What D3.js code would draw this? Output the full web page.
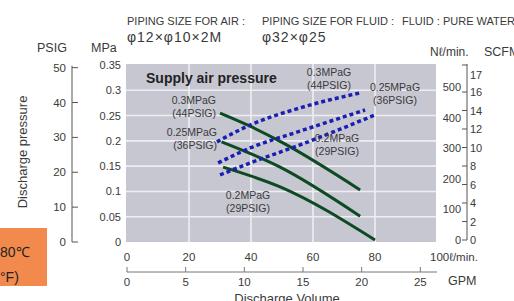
<!DOCTYPE html>
<html>
<head>
<meta charset="utf-8">
<script src="https://cdn.jsdelivr.net/npm/d3@7"></script>
<style>
body { margin: 0; background: #fff; }
svg { display: block; }
text { font-family: "Liberation Sans", Arial, sans-serif; fill: #3a3a3a; }
</style>
</head>
<body>
<svg id="chart"></svg>
<script>
// discharge volume (l/min) vs discharge pressure (MPa), one per supply air pressure
var discharge_03 = [[30, 0.255], [39.7, 0.229], [50.3, 0.196], [75.2, 0.103]];
var discharge_025 = [[30.5, 0.198], [49.4, 0.148], [75.2, 0.051]];
var discharge_02 = [[31, 0.148], [49.4, 0.109], [80, 0.004]];

// discharge volume (l/min) vs air consumption (Nl/min)
var air_03 = [[29.0, 324], [39.7, 379], [55.8, 435], [75.2, 484]];
var air_025 = [[29.4, 255], [39.7, 304], [55.8, 359], [76.8, 428]];
var air_02 = [[30, 216], [39.7, 255], [55.8, 314], [80, 412]];

var lmin_ticks = [0, 20, 40, 60, 80];
var gpm_ticks = [0, 5, 10, 15, 20, 25];
var mpa_ticks = [0, 0.05, 0.1, 0.15, 0.2, 0.25, 0.3, 0.35];
var psig_ticks = [0, 10, 20, 30, 40, 50];
var nl_ticks = [0, 100, 200, 300, 400, 500];
var scfm_ticks = [0, 2, 4, 6, 8, 10, 12, 14, 16];

var width = 514, height = 301;

var svg = d3.select('#chart')
	.attr("width", width)
	.attr("height", height);

var x = d3.scaleLinear().domain([0, 100]).range([127, 437]);
var y = d3.scaleLinear().domain([0, 0.35]).range([242, 65]);
var yn = d3.scaleLinear().domain([0, 500]).range([241, 88]);
var ys = d3.scaleLinear().domain([0, 16]).range([240, 92]);
var gpm = function(v){ return x(v * 3.785); };
var psig = function(v){ return y(v * 0.0068948); };

// plot background + grid
svg.append("rect")
	.attr("x", 126).attr("y", 64)
	.attr("width", 310).attr("height", 178)
	.attr("fill", "#c7c7d2");

svg.append("g").selectAll("line")
	.data(mpa_ticks.slice(1, 7))
	.enter().append("line")
	.attr("x1", 126).attr("x2", 436)
	.attr("y1", function(d){ return y(d); })
	.attr("y2", function(d){ return y(d); })
	.attr("stroke", "#eeeef2").attr("stroke-width", 1.6);

svg.append("g").selectAll("line")
	.data(lmin_ticks.slice(1))
	.enter().append("line")
	.attr("x1", function(d){ return x(d); })
	.attr("x2", function(d){ return x(d); })
	.attr("y1", 64).attr("y2", 242)
	.attr("stroke", "#eeeef2").attr("stroke-width", 1.6);

// curves
var line = d3.line()
	.x(function(d){ return x(d[0]); })
	.y(function(d){ return y(d[1]); })
	.curve(d3.curveMonotoneX);
var airline = d3.line()
	.x(function(d){ return x(d[0]); })
	.y(function(d){ return yn(d[1]); })
	.curve(d3.curveMonotoneX);

[discharge_03, discharge_025, discharge_02].forEach(function(s){
	svg.append("path")
		.attr("d", line(s))
		.attr("fill", "none")
		.attr("stroke", "#0d4a22")
		.attr("stroke-width", 3);
});
[air_03, air_025, air_02].forEach(function(s){
	svg.append("path")
		.attr("d", airline(s))
		.attr("fill", "none")
		.attr("stroke", "#1b1fb0")
		.attr("stroke-width", 3.5)
		.attr("stroke-dasharray", "4,3");
});

// labels inside plot
svg.append("text")
	.attr("x", 146).attr("y", 83)
	.style("font-size", "14px").style("font-weight", "bold")
	.style("fill", "#222")
	.text("Supply air pressure");

var notes = [
	{x: 216, y: 104, a: "end", t: ["0.3MPaG", "(44PSIG)"]},
	{x: 217, y: 136, a: "end", t: ["0.25MPaG", "(36PSIG)"]},
	{x: 248, y: 199, a: "middle", t: ["0.2MPaG", "(29PSIG)"]},
	{x: 329, y: 76, a: "middle", t: ["0.3MPaG", "(44PSIG)"]},
	{x: 395, y: 91, a: "middle", t: ["0.25MPaG", "(36PSIG)"]},
	{x: 337, y: 142, a: "middle", t: ["0.2MPaG", "(29PSIG)"]}
];
notes.forEach(function(n){
	svg.append("text")
		.attr("text-anchor", n.a)
		.attr("x", n.x).attr("y", n.y)
		.style("font-size", "10.5px")
		.text(n.t[0]);
	svg.append("text")
		.attr("text-anchor", n.a)
		.attr("x", n.x).attr("y", n.y + 13)
		.style("font-size", "10.5px")
		.text(n.t[1]);
});

// left axes
svg.append("g").selectAll("text")
	.data(mpa_ticks)
	.enter().append("text")
	.attr("text-anchor", "end")
	.attr("x", 121)
	.attr("y", function(d){ return y(d) + 4; })
	.style("font-size", "11px")
	.text(function(d){ return d; });

svg.append("path")
	.attr("d", "M72," + (psig(50) - 2) + "V" + psig(0) + "H78")
	.attr("fill", "none").attr("stroke", "#555").attr("stroke-width", 1);
svg.append("g").selectAll("line")
	.data(psig_ticks.slice(1))
	.enter().append("line")
	.attr("x1", 72).attr("x2", 78)
	.attr("y1", function(d){ return psig(d); })
	.attr("y2", function(d){ return psig(d); })
	.attr("stroke", "#555");
svg.append("g").selectAll("text")
	.data(psig_ticks)
	.enter().append("text")
	.attr("text-anchor", "end")
	.attr("x", 66)
	.attr("y", function(d){ return psig(d) + 4; })
	.style("font-size", "11.5px")
	.text(function(d){ return d; });

svg.append("text").attr("x", 37).attr("y", 52).style("font-size", "12.5px").text("PSIG");
svg.append("text").attr("x", 91).attr("y", 52).style("font-size", "12.5px").text("MPa");
svg.append("text")
	.attr("text-anchor", "middle")
	.attr("transform", "translate(27,152) rotate(-90)")
	.style("font-size", "13px")
	.text("Discharge pressure");

// right axes
svg.append("g").selectAll("text")
	.data(nl_ticks)
	.enter().append("text")
	.attr("text-anchor", "end")
	.attr("x", 461)
	.attr("y", function(d){ return yn(d) + 3; })
	.style("font-size", "11px")
	.text(function(d){ return d; });

svg.append("line")
	.attr("x1", 467).attr("x2", 467)
	.attr("y1", 64).attr("y2", ys(0))
	.attr("stroke", "#555");
svg.append("g").selectAll("line")
	.data(scfm_ticks)
	.enter().append("line")
	.attr("x1", 462).attr("x2", 467)
	.attr("y1", function(d){ return ys(d); })
	.attr("y2", function(d){ return ys(d); })
	.attr("stroke", "#555");
svg.append("line").attr("x1", 462).attr("x2", 467).attr("y1", 65).attr("y2", 65).attr("stroke", "#555");
svg.append("g").selectAll("text")
	.data(scfm_ticks)
	.enter().append("text")
	.attr("x", 470)
	.attr("y", function(d){ return ys(d) + 4; })
	.style("font-size", "11px")
	.text(function(d){ return d; });
svg.append("text").attr("x", 470).attr("y", 79).style("font-size", "11px").text("17");

svg.append("text").attr("x", 430).attr("y", 56).style("font-size", "12px").text("Nℓ/min.");
svg.append("text").attr("x", 484).attr("y", 56).style("font-size", "12.5px").text("SCFM");

// bottom axes
svg.append("g").selectAll("text")
	.data(lmin_ticks)
	.enter().append("text")
	.attr("text-anchor", "middle")
	.attr("x", function(d){ return x(d); })
	.attr("y", 261)
	.style("font-size", "11.5px")
	.text(function(d){ return d; });
svg.append("text").attr("x", 430).attr("y", 261).style("font-size", "11.5px").text("100ℓ/min.");

svg.append("line")
	.attr("x1", 127).attr("x2", 437)
	.attr("y1", 272).attr("y2", 272)
	.attr("stroke", "#777");
svg.append("g").selectAll("line")
	.data(gpm_ticks)
	.enter().append("line")
	.attr("x1", function(d){ return gpm(d); })
	.attr("x2", function(d){ return gpm(d); })
	.attr("y1", 267).attr("y2", 272)
	.attr("stroke", "#777");
svg.append("g").selectAll("text")
	.data(gpm_ticks)
	.enter().append("text")
	.attr("text-anchor", "middle")
	.attr("x", function(d){ return gpm(d); })
	.attr("y", 286)
	.style("font-size", "11.5px")
	.text(function(d){ return d; });
svg.append("text").attr("x", 448).attr("y", 285).style("font-size", "12.5px").text("GPM");
svg.append("text")
	.attr("text-anchor", "middle")
	.attr("x", 287).attr("y", 303)
	.style("font-size", "13px")
	.text("Discharge Volume");

// header
svg.append("text").attr("x", 127).attr("y", 25).style("font-size", "11px").text("PIPING SIZE FOR AIR :");
svg.append("text").attr("x", 127).attr("y", 42).style("font-size", "14px").style("letter-spacing", "1px").text("φ12×φ10×2M");
svg.append("text").attr("x", 262).attr("y", 25).style("font-size", "11px").text("PIPING SIZE FOR FLUID :");
svg.append("text").attr("x", 262).attr("y", 42).style("font-size", "14px").style("letter-spacing", "1px").text("φ32×φ25");
svg.append("text").attr("x", 402).attr("y", 25).style("font-size", "11px").text("FLUID : PURE WATER");

// cut-off temperature note
svg.append("rect")
	.attr("x", 0).attr("y", 228)
	.attr("width", 47).attr("height", 58)
	.attr("fill", "#f28a4e");
svg.append("text").attr("x", 0).attr("y", 257)
	.style("font-size", "14px").style("fill", "#222").text("80℃");
svg.append("text").attr("x", 0).attr("y", 282)
	.style("font-size", "14px").style("fill", "#222").text("°F)");
</script>
</body>
</html>
